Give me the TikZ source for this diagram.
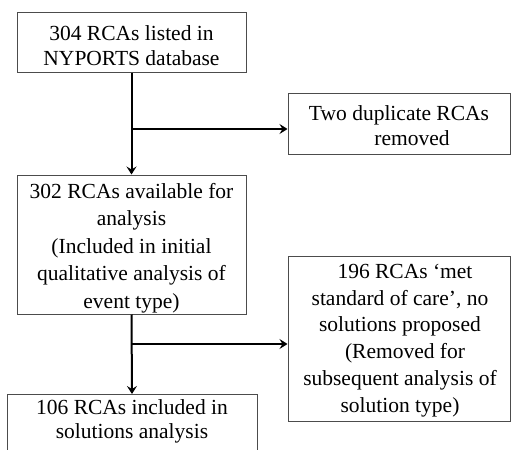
\documentclass[tikz,border=0pt]{standalone}
\usepackage{fontspec}
\setmainfont{Liberation Serif}
\usetikzlibrary{arrows.meta}
\begin{document}
\begin{tikzpicture}[x=1pt,y=-1pt,
  box/.style={draw=black!70,line width=1pt,inner sep=0pt},
  txt/.style={inner sep=0pt,align=center,font=\fontsize{21.5}{#1}\selectfont},
  txt/.default=25,
  flow/.style={line width=2pt,-{Stealth[length=8pt,width=10pt,inset=3pt]}}]
\useasboundingbox (0,0) rectangle (512,450);
\begin{scope}
\clip (0,0) rectangle (512,450);
\node[box,minimum width=229,minimum height=60] (b1) at (131.5,42) {};
\node[txt] (t1) at (131.5,45.5) {304 RCAs listed in\\NYPORTS database};
\node[box,minimum width=222,minimum height=61] (b2) at (399,123.5) {};
\node[txt] (t2) at (399,126) {Two duplicate RCAs\\\hspace*{26pt}removed};
\node[box,minimum width=229,minimum height=139] (b3) at (131.5,244.5) {};
\node[txt=27.5] (t3) at (131.5,248) {302 RCAs available for\\analysis\\(Included in initial\\qualitative analysis of\\event type)};
\node[box,minimum width=222,minimum height=165] (b5) at (399,338.5) {};
\node[txt=26.8] (t5) at (400,340.5) {\hspace*{10pt}196 RCAs ‘met\\standard of care’, no\\solutions proposed\\\hspace*{10pt}(Removed for\\subsequent analysis of\\solution type)};
\node[box,minimum width=250,minimum height=90,anchor=north] (b4) at (132,394) {};
\node[txt=24,anchor=north] (t4) at (132,399) {106 RCAs included in\\solutions analysis};
\coordinate (j1) at (132,129);
\coordinate (j2) at (132,344);
\draw[flow] (b1.south) -- (b3.north);
\draw[flow] (j1) -- (j1 -| b2.west);
\draw[flow] (b3.south) -- (b4.north);
\draw[flow] (j2) -- (j2 -| b5.west);
\end{scope}
\end{tikzpicture}
\end{document}
